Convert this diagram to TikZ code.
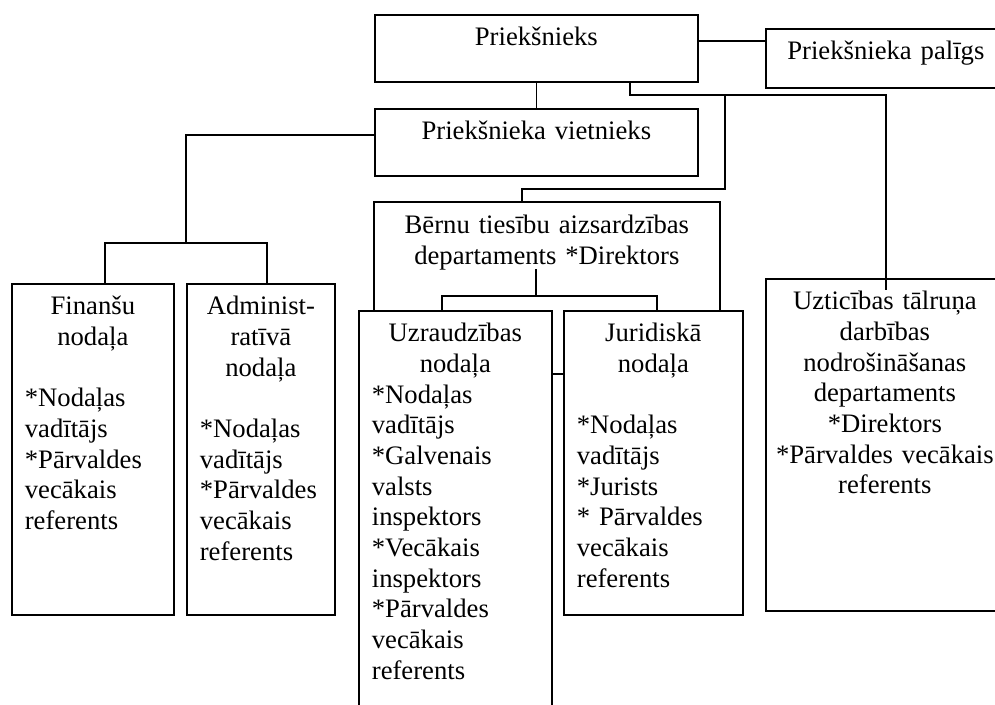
\documentclass[tikz,border=0pt]{standalone}
\usepackage{fontspec}
\setmainfont{Liberation Serif}
\newcommand\ctrline[1]{\hspace*{\fill}#1\hspace*{\fill}\null}
\tikzstyle{unit}=[draw, line width=1.3pt, anchor=north west,
inner xsep=9.75pt, inner ysep=0pt, text height=23.25pt]
\tikzstyle{cunit}=[unit, align=center]
\tikzstyle{lunit}=[unit, align=left]
\tikzstyle{link}=[line width=1.3pt]

\begin{document}
\begin{tikzpicture}[x=0.75pt, y=-0.75pt, font=\fontsize{20}{23}\selectfont]
  \useasboundingbox (0,0) rectangle (995,704);
  \clip (0,0) rectangle (995,704);

  % top level
  \node[cunit, text width=222.75pt, text depth=27pt] (chief) at (374,14) {Priekšnieks};
  \node[cunit, text width=160.5pt, text depth=21pt] (asst) at (765,28) {Priekšnieka palīgs};
  \node[cunit, text width=222.75pt, text depth=27pt] (deputy) at (374,108) {Priekšnieka vietnieks};
  \node[cunit, draw=none, text width=238.5pt, text depth=57.75pt] (child) at (374,202)
    {Bērnu tiesību aizsardzības\\departaments *Direktors};

  % departments
  \node[lunit, text width=102pt, text depth=225pt] (fin) at (11,283)
    {\ctrline{Finanšu}\\\ctrline{nodaļa}\\[23pt]{}*Nodaļas\\vadītājs\\{}*Pārvaldes\\vecākais\\referents};
  \node[lunit, text width=91.5pt, text depth=225pt] (adm) at (186,283)
    {\ctrline{Administ-}\\\ctrline{ratīvā}\\\ctrline{nodaļa}\\[23pt]{}*Nodaļas\\vadītājs\\{}*Pārvaldes\\vecākais\\referents};
  \node[lunit, text width=125.25pt, text depth=278.25pt] (sup) at (358,310)
    {\ctrline{Uzraudzības}\\\ctrline{nodaļa}\\{}*Nodaļas\\vadītājs\\{}*Galvenais\\valsts\\inspektors\\{}*Vecākais\\inspektors\\{}*Pārvaldes\\vecākais\\referents};
  \node[lunit, text width=114.75pt, text depth=204.75pt] (jur) at (563,310)
    {\ctrline{Juridiskā}\\\ctrline{nodaļa}\\[23pt]{}*Nodaļas\\vadītājs\\{}*Jurists\\{}* Pārvaldes\\vecākais\\referents};
  \node[cunit, inner xsep=0pt, text width=178.5pt, text depth=225.75pt] (hot) at (765,278)
    {Uzticības tālruņa\\darbības\\nodrošināšanas\\departaments\\{}*Direktors\\{}*Pārvaldes vecākais\\referents};

  \draw[link] (child.south west) |- (child.north east) -- (child.south east);

  \coordinate (aide) at (730,41);
  \coordinate (busL) at (630,95);
  \coordinate (busR) at (886,95);
  \coordinate (tapB) at (725,95);
  \coordinate (kneeB) at (522,189);
  \coordinate (kneeL) at (186,135);
  \coordinate (finL) at (105,243);
  \coordinate (finR) at (267,243);
  \coordinate (stem) at (536,269);
  \coordinate (subL) at (442,296);
  \coordinate (subR) at (657,296);
  \coordinate (midS) at (557,374);

  \draw[link] (chief.east |- aide) -- (asst.west |- aide);
  \draw[link] (chief) -- (deputy);
  \draw[link] (chief.south -| busL) |- (busR) -- (busR |- hot.north) -- ++(0,12);
  \draw[link] (tapB) |- (kneeB) -- (kneeB |- child.north);
  \draw[link] (deputy.west |- kneeL) -| (kneeL |- finL);
  \draw[link] (fin.north -| finL) |- (finR) -- (finR |- adm.north);
  \draw[link] (stem) -- (stem |- subL);
  \draw[link] (sup.north -| subL) |- (subR) -- (subR |- jur.north);
  \draw[link] (sup.east |- midS) -- (jur.west |- midS);
\end{tikzpicture}
\end{document}
